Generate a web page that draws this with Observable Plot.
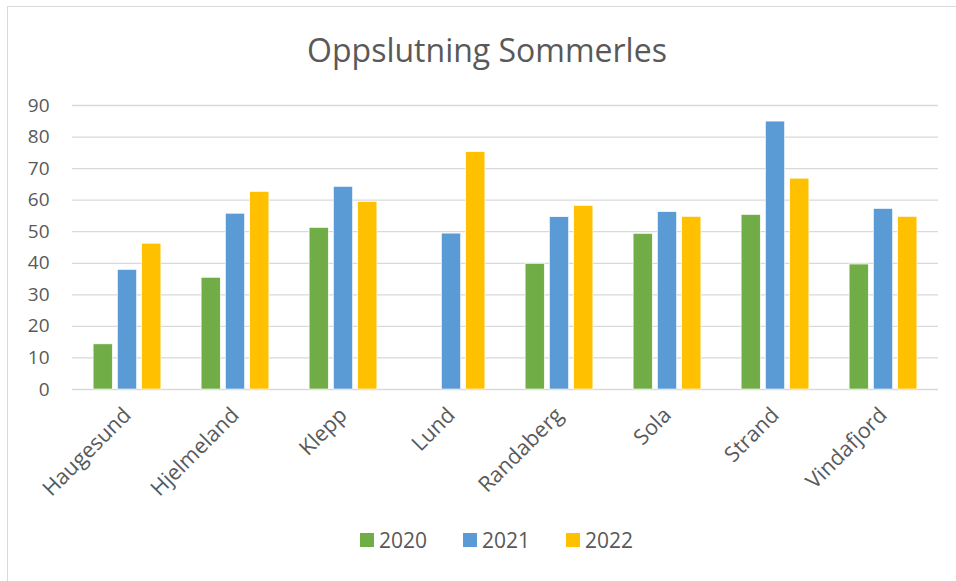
<!DOCTYPE html>
<html>
<head>
<meta charset="utf-8">
<script src="https://cdn.jsdelivr.net/npm/d3@7"></script>
<script src="https://cdn.jsdelivr.net/npm/@observablehq/plot@0.6"></script>
<style>
  html, body { margin: 0; padding: 0; background: #fff; overflow: hidden; }
  #wrap { position: relative; width: 956px; height: 581px; font-family: "Open Sans", sans-serif; color: #595959; }
  #frame { position: absolute; left: 7px; top: 6px; width: 1000px; height: 700px; border-left: 1.5px solid #d9d9d9; border-top: 1.5px solid #d9d9d9; }
  #title { position: absolute; left: 0; top: 29px; width: 974px; text-align: center; font-size: 32px; line-height: 42px; }
  #chart { position: absolute; left: 0; top: 0; }
  #legend { position: absolute; left: 0; top: 526px; width: 993px; display: flex; justify-content: center; gap: 36px; font-size: 21px; line-height: 28px; }
  #legend .item { display: flex; align-items: center; gap: 5px; }
  #legend .sw { width: 14px; height: 14px; display: inline-block; }
</style>
</head>
<body>
<div id="wrap">
  <div id="frame"></div>
  <div id="title">Oppslutning Sommerles</div>
  <div id="chart"></div>
  <div id="legend"></div>
</div>
<script>
const categories = ["Haugesund", "Hjelmeland", "Klepp", "Lund", "Randaberg", "Sola", "Strand", "Vindafjord"];
const years = ["2020", "2021", "2022"];
const colors = ["#70AD47", "#5B9BD5", "#FFC000"];
const values2020 = [14.3, 35.4, 51.2, null, 39.8, 49.3, 55.3, 39.6];
const values2021 = [37.9, 55.7, 64.2, 49.4, 54.6, 56.2, 84.9, 57.2];
const values2022 = [46.2, 62.6, 59.4, 75.2, 58.2, 54.7, 66.8, 54.7];
const yTicks = [0, 10, 20, 30, 40, 50, 60, 70, 80, 90];

const series = [values2020, values2021, values2022];
const data = [];
years.forEach((yr, j) => {
  categories.forEach((c, i) => {
    if (series[j][i] != null) data.push({category: c, year: yr, value: series[j][i]});
  });
});

const barW = 19.4, step = 24.3;
const bandW = (956 - 72 - 18) / categories.length;
const inset = (bandW - barW) / 2;

const marks = [
  Plot.ruleY(yTicks, {stroke: "#d9d9d9", strokeWidth: 1.3})
];
years.forEach((yr, j) => {
  marks.push(Plot.barY(data.filter(d => d.year === yr), {
    x: "category", y: "value", fill: "year",
    insetLeft: inset, insetRight: inset, dx: (j - 1) * step,
    stroke: "#fff", strokeWidth: 0.6
  }));
});
marks.push(
  Plot.axisY({ticks: yTicks, tickSize: 0, tickPadding: 23, fontSize: 19, fill: "#595959", label: null}),
  Plot.axisX({tickSize: 0, tickRotate: -45, tickPadding: 22, fontSize: 21.5, fill: "#595959", label: null, dx: 0})
);

const chart = Plot.plot({
  width: 956,
  height: 581,
  marginTop: 105,
  marginBottom: 192,
  marginLeft: 72,
  marginRight: 18,
  style: {fontFamily: "'Open Sans', sans-serif", background: "transparent", color: "#595959", overflow: "visible"},
  x: {domain: categories, padding: 0, label: null},
  y: {domain: [0, 90], label: null},
  color: {domain: years, range: colors},
  marks
});
document.getElementById("chart").appendChild(chart);

const legend = document.getElementById("legend");
years.forEach((yr, j) => {
  const it = document.createElement("div");
  it.className = "item";
  const sw = document.createElement("span");
  sw.className = "sw";
  sw.style.background = colors[j];
  const t = document.createElement("span");
  t.textContent = yr;
  it.appendChild(sw); it.appendChild(t);
  legend.appendChild(it);
});
</script>
</body>
</html>
